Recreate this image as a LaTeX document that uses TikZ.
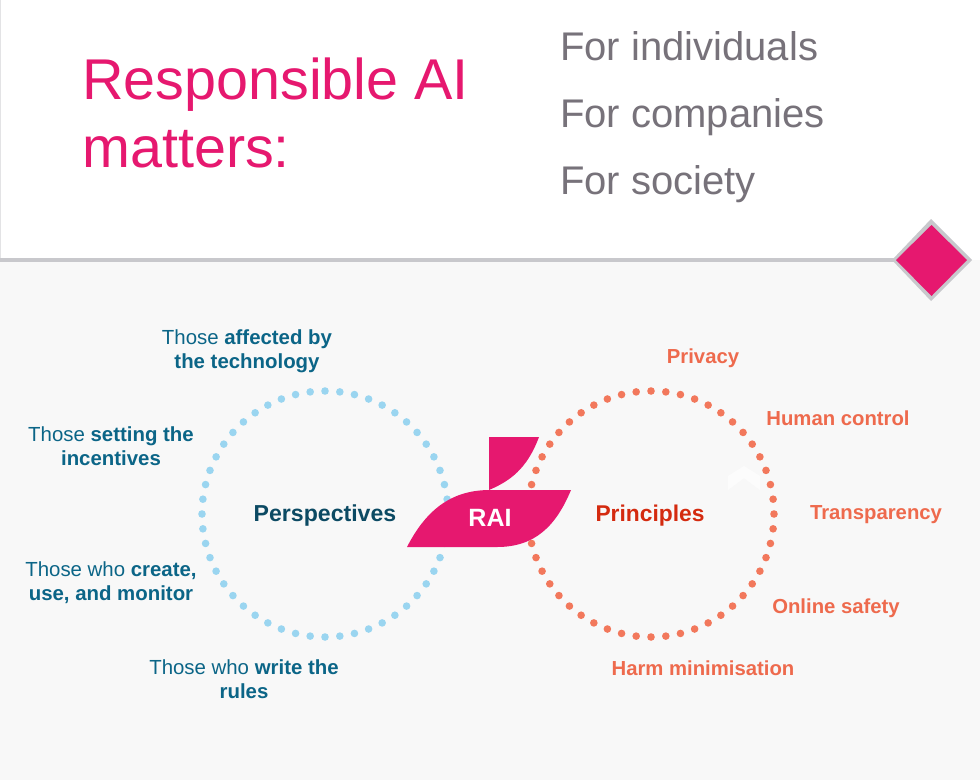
\documentclass[tikz,border=0pt]{standalone}
\usepackage{fontspec}
\setmainfont{Liberation Sans}
\definecolor{raipink}{HTML}{E6186F}
\definecolor{rulegrey}{HTML}{C8C8CC}
\definecolor{panelgrey}{HTML}{F8F8F8}
\definecolor{forgrey}{HTML}{77727A}
\definecolor{persteal}{HTML}{0B6587}
\definecolor{persdark}{HTML}{0C4A63}
\definecolor{persdot}{HTML}{9AD5F0}
\definecolor{prinred}{HTML}{D42A0F}
\definecolor{prinorange}{HTML}{EE6A4D}
\definecolor{prindot}{HTML}{F2785C}
\tikzset{
    titletext/.style={text=raipink,font=\fontsize{57.5}{68}\selectfont,align=left,anchor=west,inner sep=0pt},
    fortext/.style={text=forgrey,font=\fontsize{40}{48}\selectfont,anchor=base west,inner sep=0pt},
    perstext/.style={text=persteal,font=\fontsize{20.4}{24}\selectfont,align=center,inner sep=0pt},
    printext/.style={text=prinorange,font=\fontsize{20.3}{24}\selectfont\bfseries,inner sep=0pt},
}
\begin{document}
\begin{tikzpicture}[x=1pt,y=-1pt]
    \useasboundingbox (0,0) rectangle (980,780);
    \fill[white] (0,0) rectangle (980,260);
    \fill[panelgrey] (0,260) rectangle (980,780);
    \draw[rulegrey!50,line width=1pt] (0.5,0) -- (0.5,260);
    \draw[rulegrey,line width=4pt] (0,260) -- (900,260);
    \fill[rulegrey] (931,219) -- (972,260) -- (931,301) -- (892,260) -- cycle;
    \fill[raipink] (931.5,225) -- (967,260) -- (931.5,296) -- (896,260) -- cycle;
    \node[titletext] (title) at (82,113) {Responsible AI\\matters:};
    \node[fortext] (individuals) at (560,60) {For individuals};
    \node[fortext] (companies) at (560,127) {For companies};
    \node[fortext] (society) at (560,194) {For society};
    % dotted rings
    \foreach \k in {0,...,51} {
        \pgfmathsetmacro{\a}{90+\k*6.9231}
        \fill[persdot] ({325+123*cos(\a)},{514-123*sin(\a)}) circle (3.8pt);
        \fill[prindot] ({651+123*cos(\a)},{514-123*sin(\a)}) circle (3.8pt);
    }
    \fill[white,opacity=0.6] (744,466) -- (760,476) -- (760,490) -- (744,478) -- (728,490) -- (728,476) -- cycle;
    % leaf
    \fill[raipink] (489,437) -- (539,437) .. controls (527,469) and (510,481) .. (489,490) -- cycle;
    \fill[raipink] (407,547) .. controls (428,506) and (455,490) .. (490,490) -- (571,490)
        .. controls (556,526) and (535,547) .. (497,547) -- cycle;
    \node[text=white,font=\fontsize{25}{30}\selectfont\bfseries,inner sep=0pt] (rai) at (490,518) {RAI};
    \node[text=persdark,font=\fontsize{23.1}{27}\selectfont\bfseries,inner sep=0pt] (perspectives) at (325,516) {Perspectives};
    \node[text=prinred,font=\fontsize{22.8}{27}\selectfont\bfseries,inner sep=0pt] (principles) at (650,516) {Principles};
    \node[perstext] (affected) at (247,351) {Those \textbf{affected by}\\\textbf{the technology}};
    \node[perstext] (incentives) at (111,446) {Those \textbf{setting the}\\\textbf{incentives}};
    \node[perstext] (create) at (111,583) {Those who \textbf{create,}\\\textbf{use, and monitor}};
    \node[perstext] (rules) at (244,679) {Those who \textbf{write the}\\\textbf{rules}};
    \node[printext] (privacy) at (703,358) {Privacy};
    \node[printext] (control) at (838,418) {Human control};
    \node[printext] (transparency) at (876,515) {Transparency};
    \node[printext] (safety) at (836,608) {Online safety};
    \node[printext] (harm) at (703,668) {Harm minimisation};
\end{tikzpicture}
\end{document}
